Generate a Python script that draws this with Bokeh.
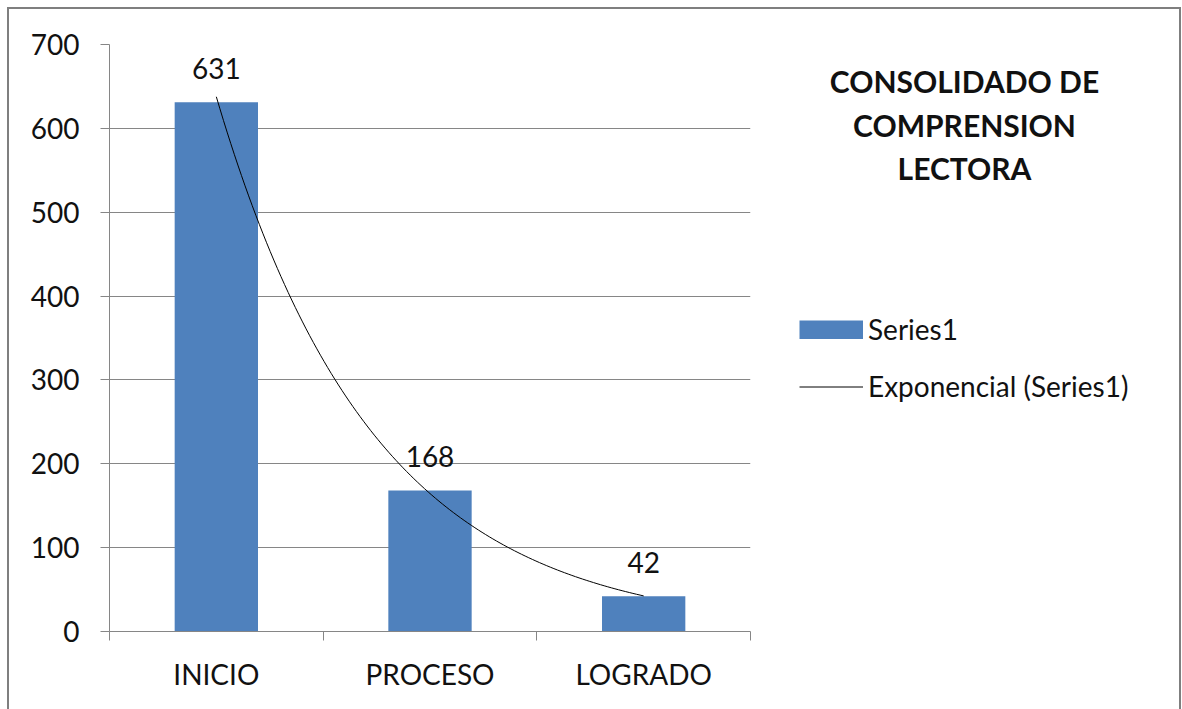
import numpy as np
from bokeh.plotting import figure
from bokeh.layouts import row
from bokeh.models import (FixedTicker, Legend, LegendItem, ColumnDataSource, Range1d)
from bokeh.core.properties import value
from bokeh.embed import file_html
from bokeh.resources import INLINE

# ---- data ----
categories = ["INICIO", "PROCESO", "LOGRADO"]
values = [631, 168, 42]
y_ticks = [0, 100, 200, 300, 400, 500, 600, 700]
series_name = "Series1"
trend_name = "Exponencial (Series1)"
title_lines = ["CONSOLIDADO DE", "COMPRENSION", "LECTORA"]

FONT = "Lato"
GRAY = "#868686"
BAR = "#4F81BD"
TXT = "#111111"
FS = "28px"

xs = list(range(1, len(categories) + 1))
src = ColumnDataSource(dict(x=xs, top=values, lbl=[str(v) for v in values]))

# exponential trendline (least squares on log values, as Excel does)
b, a = np.polyfit(xs, np.log(values), 1)
tx = np.linspace(xs[0], xs[-1], 120)
ty = np.exp(a + b * tx)

H = 700
W1, W2 = 771, 399
MT, MB = 35, 78

# ---------- chart figure ----------
p = figure(width=W1, height=H, x_range=Range1d(0.5, len(categories) + 0.5),
           y_range=Range1d(y_ticks[0], y_ticks[-1]),
           output_backend="svg", toolbar_location=None,
           min_border_left=100, min_border_right=30,
           min_border_top=MT, min_border_bottom=MB)
p.outline_line_color = None
p.background_fill_color = "white"
p.border_fill_color = "white"
p.xgrid.visible = False
p.ygrid.ticker = FixedTicker(ticks=y_ticks)
p.ygrid.grid_line_color = GRAY
p.ygrid.grid_line_width = 1

ya = p.yaxis[0]
ya.ticker = FixedTicker(ticks=y_ticks)
ya.axis_line_color = GRAY
ya.major_tick_line_color = GRAY
ya.major_tick_out = 9
ya.major_tick_in = 0
ya.minor_tick_line_color = None
ya.major_label_text_font = FONT
ya.major_label_text_font_size = FS
ya.major_label_text_color = TXT
ya.major_label_standoff = 21

xa = p.xaxis[0]
xa.ticker = FixedTicker(ticks=xs, minor_ticks=[x - 0.5 for x in xs] + [xs[-1] + 0.5])
xa.axis_line_color = GRAY
xa.major_tick_line_color = None
xa.major_tick_out = 0
xa.major_tick_in = 0
xa.minor_tick_line_color = GRAY
xa.minor_tick_out = 9
xa.minor_tick_in = 0
xa.major_label_overrides = {x: c for x, c in zip(xs, categories)}
xa.major_label_text_font = FONT
xa.major_label_text_font_size = FS
xa.major_label_text_color = TXT
xa.major_label_standoff = 16

p.vbar(x="x", top="top", width=0.39, source=src, fill_color=BAR, line_color=None)
p.line(tx, ty, line_color="black", line_width=1)
p.text(x="x", y="top", text="lbl", source=src, y_offset=-34,
       text_align="center", text_baseline="alphabetic",
       text_font=value(FONT), text_font_size=FS, text_color=TXT)

# ---------- side figure: title + legend (frame aligned with chart frame) ----------
# ranges expressed in window pixels: frame spans x 780..1179, y 44..631
s = figure(width=W2, height=H, x_range=Range1d(780, 780 + W2), y_range=Range1d(631, 44),
           x_axis_type=None, y_axis_type=None,
           output_backend="svg", toolbar_location=None,
           min_border_left=0, min_border_right=0, min_border_top=MT, min_border_bottom=MB)
s.outline_line_color = None
s.background_fill_color = "white"
s.border_fill_color = "white"

tsrc = ColumnDataSource(dict(x=[964] * len(title_lines), y=[80.5, 124.5, 167.5], t=title_lines))
s.text(x="x", y="y", text="t", source=tsrc, text_align="center", text_baseline="alphabetic",
       text_font=value(FONT), text_font_style="bold", text_font_size="30px", text_color=TXT)

# hidden copies of the series, used only for the legend swatches
leg_bar = s.vbar(x="x", top="top", width=0.39, source=src, fill_color=BAR,
                 line_color=None, visible=False)
leg_bar_full = s.line(tx, ty, line_color=BAR, line_width=19, line_cap="butt", visible=False)
leg_line = s.line(tx, ty, line_color="black", line_width=1, visible=False)
legend = Legend(items=[LegendItem(label=series_name, renderers=[leg_bar, leg_bar_full]),
                       LegendItem(label=trend_name, renderers=[leg_line])],
                location=(19, 228), glyph_width=64, glyph_height=19,
                label_standoff=5, spacing=23, padding=0, margin=0,
                border_line_alpha=0, background_fill_alpha=0,
                inactive_fill_alpha=0,
                label_text_font=FONT, label_text_font_size=FS,
                label_text_color=TXT)
s.add_layout(legend)

layout = row(p, s, styles={"margin-left": "7px", "margin-top": "7px",
                           "border-left": "2px solid #7f7f7f",
                           "border-top": "2px solid #7f7f7f",
                           "border-right": "2px solid #7f7f7f"})

open("out.html", "w").write(file_html(layout, INLINE))
